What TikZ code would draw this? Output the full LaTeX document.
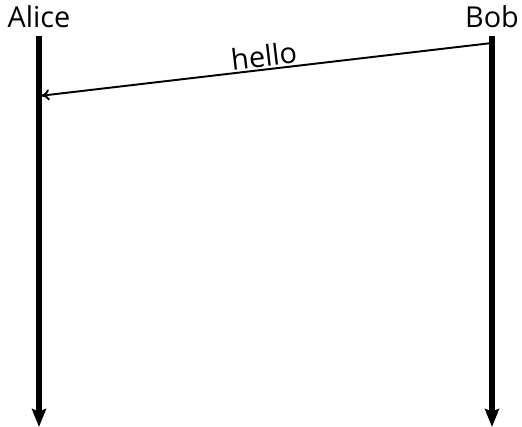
\documentclass[tikz,border=0pt]{standalone}
\usepackage{fontspec}
\setmainfont{Open Sans}
\usetikzlibrary{arrows.meta}
\tikzset{
  lifeline/.style={line width=2.9pt,-{Stealth[length=0.36cm,width=0.28cm,inset=0.05cm]}},
  msg/.style={line width=1.1pt,-{To[length=0.16cm,width=0.22cm]},shorten <=0.05cm,shorten >=0.05cm},
  actor/.style={anchor=base,font=\fontsize{16.4}{19}\selectfont}
}
\begin{document}
\begin{tikzpicture}
            \useasboundingbox (0,0) rectangle (10.44,8.54);
            % Teilnehmer
            \node[actor] (alice) at (0.78,7.98) {Alice};
            \node[actor] (bob) at (9.84,7.98) {Bob};
            \coordinate (alicetop) at (0.78,7.82);
            \coordinate (alicebot) at (0.78,0);
            \coordinate (bobtop) at (9.84,7.82);
            \coordinate (bobbot) at (9.84,0);
            % Lebenslinien
            \draw[lifeline] (alicetop) -- (alicebot);
            \draw[lifeline] (bobtop) -- (bobbot);
            % Nachricht
            \coordinate (alicemsg) at (0.78,6.62);
            \coordinate (bobmsg) at (9.84,7.68);
            \draw[msg] (bobmsg) -- node[sloped,above,inner sep=1pt,font=\fontsize{16.4}{19}\selectfont] (hello) {hello} (alicemsg);
            \end{tikzpicture}
\end{document}
